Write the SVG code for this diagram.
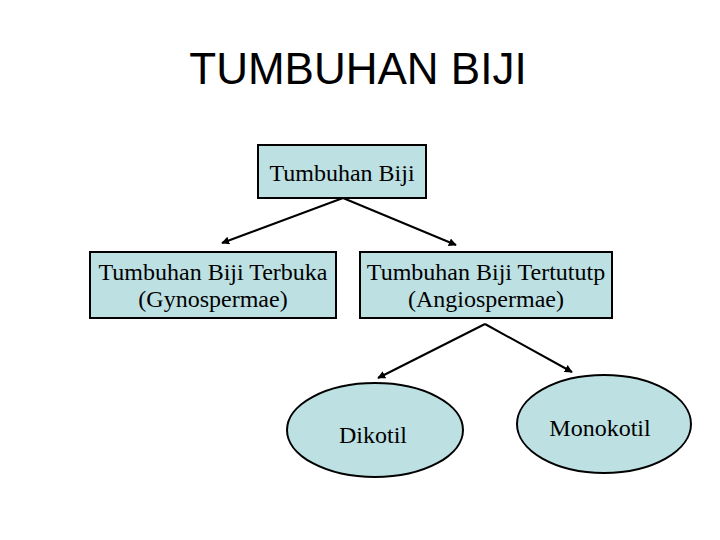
<svg xmlns="http://www.w3.org/2000/svg" width="720" height="540" viewBox="0 0 720 540">
<style>
.box{fill:#BDE0E3;stroke:#000;stroke-width:2}
.t{font-family:"Liberation Serif","Times New Roman",serif;font-size:24px;fill:#000;text-anchor:middle}
.c{stroke:#000;stroke-width:2;fill:none;marker-end:url(#ah)}
</style>
<defs>
<marker id="ah" viewBox="0 0 10 10" refX="9" refY="5" markerWidth="4" markerHeight="4" orient="auto" markerUnits="strokeWidth">
<path d="M0,0 L10,5 L0,10 z" fill="#000"/>
</marker>
</defs>
<rect width="720" height="540" fill="#fff"/>
<text x="358" y="84" font-family="Liberation Sans, Arial, sans-serif" font-size="44" text-anchor="middle">TUMBUHAN BIJI</text>
<g id="connectors">
<line class="c" x1="343" y1="198" x2="222" y2="243"/>
<line class="c" x1="343" y1="198" x2="456" y2="245"/>
<line class="c" x1="485" y1="324" x2="378" y2="378"/>
<line class="c" x1="485" y1="324" x2="572" y2="372"/>
</g>
<g id="root">
<rect class="box" x="258" y="145" width="168" height="53"/>
<text class="t" x="342" y="181">Tumbuhan Biji</text>
</g>
<g id="gymno">
<rect class="box" x="90" y="252" width="246" height="66"/>
<text class="t" x="213" y="280">Tumbuhan Biji Terbuka</text>
<text class="t" x="213" y="307">(Gynospermae)</text>
</g>
<g id="angio">
<rect class="box" x="360" y="252" width="252" height="66"/>
<text class="t" x="486" y="280">Tumbuhan Biji Tertututp</text>
<text class="t" x="486" y="307">(Angiospermae)</text>
</g>
<g id="dikotil">
<ellipse class="box" cx="375" cy="430" rx="88" ry="47"/>
<text class="t" x="373" y="443">Dikotil</text>
</g>
<g id="monokotil">
<ellipse class="box" cx="604" cy="424" rx="87" ry="49"/>
<text class="t" x="600" y="436">Monokotil</text>
</g>
</svg>
